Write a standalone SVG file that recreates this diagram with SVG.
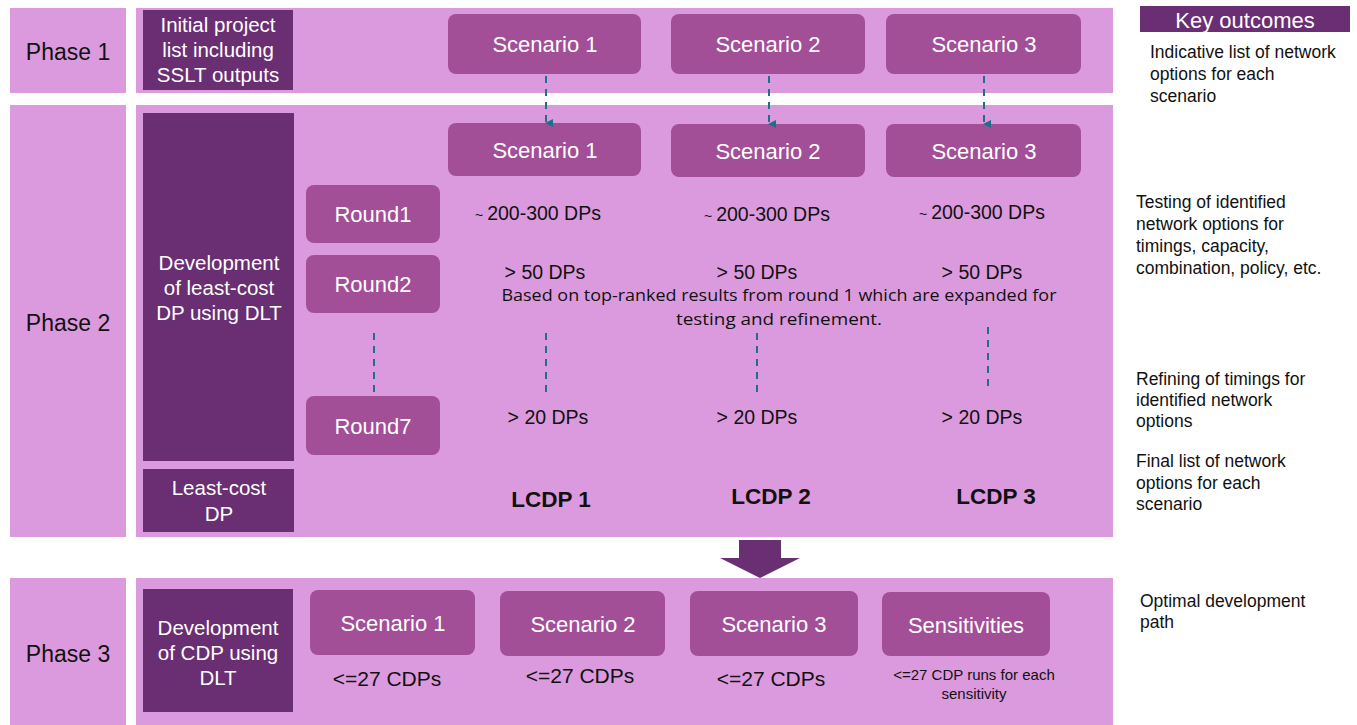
<svg xmlns="http://www.w3.org/2000/svg" width="1357" height="725" viewBox="0 0 1357 725">
<style>
.band{fill:#DC9ADE}
.dark{fill:#6A2E73}
.box{fill:#A24F98}
text{font-family:"Liberation Sans",Arial,sans-serif}
.w{fill:#fff;font-size:22px;text-anchor:middle}
.sc{fill:#fff;font-size:22px;text-anchor:middle}
.wl{fill:#fff;font-size:20.5px;text-anchor:middle}
.ph{fill:#111;font-size:23px;text-anchor:middle}
.dp{fill:#111;font-size:19.5px;text-anchor:middle}
.cd{fill:#111;font-size:21px;text-anchor:middle}
.lc{fill:#111;font-size:22.5px;font-weight:bold;text-anchor:middle}
.ko{fill:#111;font-size:17.5px}
.cal{font-family:"Open Sans","Noto Sans",sans-serif;fill:#111;font-size:17px;text-anchor:middle}
.dash{stroke:#1F6E8C;stroke-width:2;stroke-dasharray:7,6;fill:none}
</style>
<defs>
<marker id="ah" markerWidth="8" markerHeight="8" refX="4" refY="7" orient="auto" markerUnits="userSpaceOnUse" viewBox="0 0 8 8">
<path d="M0,0 L8,0 L4,8 z" fill="#1F6E8C"/>
</marker>
</defs>
<rect width="1357" height="725" fill="#fff"/>
<g id="phase1">
<rect class="band" x="10" y="8" width="116" height="85"/>
<text class="ph" x="68" y="60">Phase 1</text>
<rect class="band" x="136" y="8" width="977" height="85"/>
</g>
<g id="phase2">
<rect class="band" x="10" y="105" width="116" height="432"/>
<text class="ph" x="68" y="331">Phase 2</text>
<rect class="band" x="136" y="105" width="977" height="432"/>
</g>
<g id="phase3">
<rect class="band" x="10" y="578" width="116" height="147"/>
<text class="ph" x="68" y="662">Phase 3</text>
<rect class="band" x="136" y="578" width="977" height="147"/>
</g>
<g id="initial">
<rect class="dark" x="143" y="10" width="150" height="80"/>
<text class="wl" x="218" y="32">Initial project</text>
<text class="wl" x="218" y="57">list including</text>
<text class="wl" x="218" y="82">SSLT outputs</text>
</g>
<g id="p1s1"><rect class="box" x="448" y="14" width="193" height="60" rx="8"/><text class="sc" x="545" y="52">Scenario  1</text></g>
<g id="p1s2"><rect class="box" x="671" y="14" width="194" height="60" rx="8"/><text class="sc" x="768" y="52">Scenario  2</text></g>
<g id="p1s3"><rect class="box" x="886" y="14" width="195" height="60" rx="8"/><text class="sc" x="984" y="52">Scenario  3</text></g>
<g id="keyout">
<rect class="dark" x="1140" y="6" width="210" height="26"/>
<text class="w" x="1245" y="28">Key outcomes</text>
<text class="ko" x="1150" y="58">Indicative list of network</text>
<text class="ko" x="1150" y="80">options for each</text>
<text class="ko" x="1150" y="102">scenario</text>
<text class="ko" x="1136" y="208">Testing of identified</text>
<text class="ko" x="1136" y="230">network options for</text>
<text class="ko" x="1136" y="252">timings, capacity,</text>
<text class="ko" x="1136" y="274">combination, policy, etc.</text>
<text class="ko" x="1136" y="385">Refining of timings for</text>
<text class="ko" x="1136" y="406">identified network</text>
<text class="ko" x="1136" y="427">options</text>
<text class="ko" x="1136" y="467">Final list of network</text>
<text class="ko" x="1136" y="489">options for each</text>
<text class="ko" x="1136" y="510">scenario</text>
<text class="ko" x="1140" y="607">Optimal development</text>
<text class="ko" x="1140" y="628">path</text>
</g>
<g id="devlc">
<rect class="dark" x="143" y="113" width="151" height="348"/>
<text class="wl" x="219" y="270">Development</text>
<text class="wl" x="219" y="295">of least-cost</text>
<text class="wl" x="219" y="320">DP using DLT</text>
</g>
<g id="lcdp">
<rect class="dark" x="143" y="469" width="151" height="63"/>
<text class="wl" x="219" y="495">Least-cost</text>
<text class="wl" x="219" y="521">DP</text>
</g>
<g id="p2s1"><rect class="box" x="448" y="123" width="193" height="53" rx="8"/><text class="sc" x="545" y="158">Scenario  1</text></g>
<g id="p2s2"><rect class="box" x="671" y="124" width="194" height="53" rx="8"/><text class="sc" x="768" y="159">Scenario  2</text></g>
<g id="p2s3"><rect class="box" x="886" y="124" width="195" height="53" rx="8"/><text class="sc" x="984" y="159">Scenario  3</text></g>
<g id="round1"><rect class="box" x="306" y="185" width="134" height="58" rx="8"/><text class="w" x="373" y="222">Round1</text></g>
<g id="round2"><rect class="box" x="306" y="255" width="134" height="58" rx="8"/><text class="w" x="373" y="292">Round2</text></g>
<g id="round7"><rect class="box" x="306" y="396" width="134" height="59" rx="8"/><text class="w" x="373" y="434">Round7</text></g>
<g id="counts">
<text class="dp" x="538" y="220"><tspan font-size="14">~ </tspan>200-300 DPs</text>
<text class="dp" x="767" y="221"><tspan font-size="14">~ </tspan>200-300 DPs</text>
<text class="dp" x="982" y="219"><tspan font-size="14">~ </tspan>200-300 DPs</text>
<text class="dp" x="545" y="279">&gt; 50 DPs</text>
<text class="dp" x="757" y="279">&gt; 50 DPs</text>
<text class="dp" x="982" y="279">&gt; 50 DPs</text>
<text class="cal" x="779" y="301" textLength="555" lengthAdjust="spacingAndGlyphs">Based on top-ranked results from round 1 which are expanded for</text>
<text class="cal" x="779" y="325" textLength="206" lengthAdjust="spacingAndGlyphs">testing and refinement.</text>
<text class="dp" x="548" y="424">&gt; 20 DPs</text>
<text class="dp" x="757" y="424">&gt; 20 DPs</text>
<text class="dp" x="982" y="424">&gt; 20 DPs</text>
<text class="lc" x="551" y="507">LCDP 1</text>
<text class="lc" x="771" y="504">LCDP 2</text>
<text class="lc" x="996" y="504">LCDP 3</text>
</g>
<g id="devcdp">
<rect class="dark" x="143" y="589" width="150" height="123"/>
<text class="wl" x="218" y="635">Development</text>
<text class="wl" x="218" y="660">of CDP using</text>
<text class="wl" x="218" y="685">DLT</text>
</g>
<g id="p3s1"><rect class="box" x="310" y="590" width="165" height="65" rx="8"/><text class="sc" x="393" y="631">Scenario  1</text></g>
<g id="p3s2"><rect class="box" x="500" y="591" width="165" height="65" rx="8"/><text class="sc" x="583" y="632">Scenario  2</text></g>
<g id="p3s3"><rect class="box" x="690" y="591" width="168" height="65" rx="8"/><text class="sc" x="774" y="632">Scenario  3</text></g>
<g id="sens"><rect class="box" x="882" y="592" width="168" height="64" rx="8"/><text class="w" x="966" y="633">Sensitivities</text></g>
<g id="cdps">
<text class="cd" x="387" y="686">&lt;=27 CDPs</text>
<text class="cd" x="580" y="683">&lt;=27 CDPs</text>
<text class="cd" x="771" y="686">&lt;=27 CDPs</text>
<text fill="#111" font-size="15" text-anchor="middle" x="974" y="680">&lt;=27 CDP runs  for each</text>
<text fill="#111" font-size="15" text-anchor="middle" x="974" y="699">sensitivity</text>
</g>
<g id="connectors">
<line class="dash" x1="546" y1="76" x2="546" y2="123" marker-end="url(#ah)"/>
<line class="dash" x1="769" y1="76" x2="769" y2="124" marker-end="url(#ah)"/>
<line class="dash" x1="984" y1="76" x2="984" y2="124" marker-end="url(#ah)"/>
<line class="dash" x1="374" y1="333" x2="374" y2="396"/>
<line class="dash" x1="546" y1="333" x2="546" y2="395"/>
<line class="dash" x1="757" y1="333" x2="757" y2="393"/>
<line class="dash" x1="988" y1="327" x2="988" y2="390"/>
<path d="M739,540 H781 V558 H800 L760,578 L720,558 H739 Z" fill="#6A2E73"/>
</g>
</svg>
